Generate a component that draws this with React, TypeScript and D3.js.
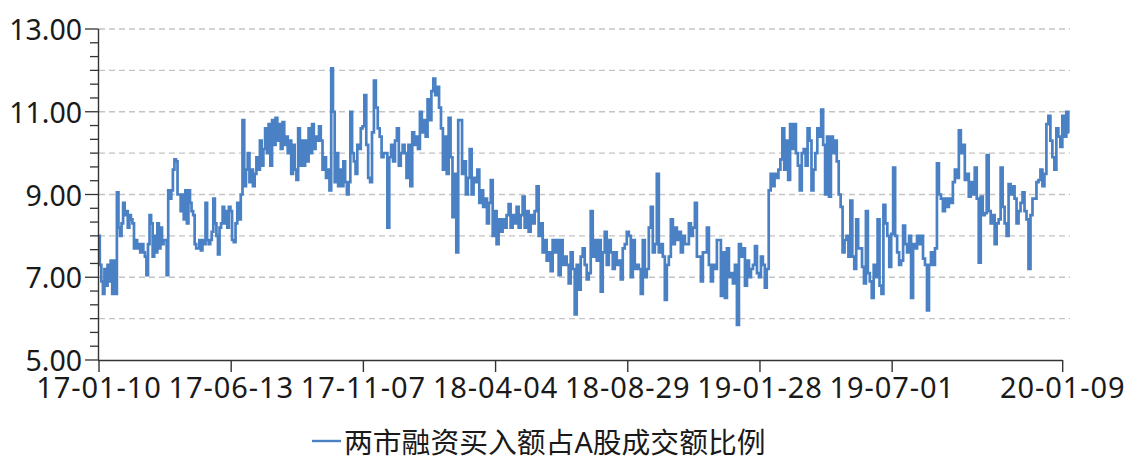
import React from "react";
import * as d3 from "d3";

// ---- Data ----
const seriesName = "两市融资买入额占A股成交额比例";
const tickLabels = ["17-01-10", "17-06-13", "17-11-07", "18-04-04", "18-08-29", "19-01-28", "19-07-01", "20-01-09"];
const tickDayIndex = [0, 100, 200, 300, 400, 500, 600, 729];
const lastDayIndex = 734;
const yTickValues = [5, 7, 9, 11, 13];

// values sampled across each 100-trading-day period
const p17a = [8.0, 7.3, 6.9, 6.6, 7.2, 6.8, 7.3, 6.9, 7.4, 6.6, 7.4, 6.6, 9.05, 8.2, 8.0, 8.3, 8.8, 8.5, 8.6, 8.2, 8.5, 8.4, 8.3, 7.7, 7.9, 7.7, 7.8, 7.6, 7.8, 7.6, 7.5, 7.05, 7.8, 8.5, 8.3, 7.5, 8.0, 7.6, 8.3, 7.7, 8.2, 7.8, 7.9, 7.9, 7.05, 9.1, 8.9, 9.1, 9.6, 9.85, 9.8, 9.0, 9.0, 8.6, 9.0, 8.4, 9.1, 8.3, 9.1, 8.8, 8.6, 8.5, 7.8, 7.7, 7.7, 7.9, 7.65, 7.9, 7.8, 8.8, 7.9, 7.8, 7.9, 8.1, 8.9, 8.3, 8.0, 7.55, 8.2, 8.3, 8.7, 8.3, 8.6, 8.2, 8.7];
const p17b = [8.6, 7.9, 7.85, 8.3, 8.8, 8.4, 9.0, 10.8, 9.2, 9.6, 10.0, 9.3, 9.6, 9.2, 9.5, 9.9, 9.6, 10.3, 9.7, 10.1, 10.6, 10.0, 10.7, 9.7, 10.8, 10.2, 10.85, 10.3, 10.7, 10.1, 10.75, 10.2, 10.4, 10.0, 10.3, 9.5, 10.2, 9.6, 9.35, 10.6, 9.7, 10.3, 9.7, 10.3, 9.8, 10.6, 10.0, 10.7, 10.1, 10.4, 10.3, 10.65, 10.3, 9.6, 9.9, 9.4, 9.6, 9.1, 12.05, 11.0, 9.3, 10.0, 9.2, 9.6, 9.2, 9.8, 9.3, 9.0, 9.3, 11.0, 10.0, 9.8, 9.5, 10.2, 10.1, 10.6];
const p18a = [10.65, 11.4, 10.2, 9.4, 9.3, 10.5, 11.75, 11.1, 10.6, 10.4, 9.9, 10.0, 10.0, 8.2, 9.9, 10.2, 9.8, 10.3, 10.6, 9.7, 10.0, 10.2, 10.0, 9.4, 10.2, 9.2, 10.5, 10.2, 10.4, 10.1, 11.0, 10.5, 10.8, 10.4, 11.3, 10.8, 11.5, 11.8, 11.4, 11.6, 11.1, 10.6, 9.6, 10.4, 9.5, 10.85, 9.9, 8.45, 9.5, 7.6, 10.8, 10.8, 9.5, 9.8, 9.0, 9.4, 10.1, 9.0, 9.4, 9.3, 9.6, 8.8, 9.1, 8.7, 8.9, 8.3, 8.8, 9.35, 8.0];
const p18b = [8.6, 7.8, 8.4, 8.1, 8.4, 8.2, 8.5, 8.77, 8.2, 8.5, 8.3, 8.7, 8.2, 8.5, 8.95, 8.2, 8.6, 8.1, 8.5, 8.3, 8.6, 9.2, 8.0, 8.3, 7.6, 7.9, 7.4, 7.6, 7.15, 7.9, 7.6, 7.9, 7.05, 7.9, 7.3, 7.5, 7.3, 6.85, 7.6, 7.2, 6.1, 7.3, 6.7, 7.5, 7.7, 7.3, 6.95, 7.1, 8.6, 7.5, 7.9, 7.4, 7.9, 6.65, 7.6, 8.1, 7.3, 7.9, 7.6, 7.2, 7.6, 7.3, 7.4, 6.95, 7.7, 7.8];
const p18c = [8.1, 8.0, 7.0, 7.9, 7.2, 7.3, 7.2, 6.6, 7.9, 7.0, 7.2, 8.2, 8.7, 7.6, 7.8, 9.5, 7.6, 7.8, 7.5, 6.45, 7.3, 7.5, 8.4, 7.8, 8.2, 7.9, 8.1, 7.6, 8.0, 7.8, 7.8, 8.3, 8.0, 8.2, 8.8, 7.5, 7.5, 6.9, 7.6, 7.6, 8.2, 7.3, 6.9, 7.3, 7.2, 7.9, 7.9, 6.55, 7.6, 6.5, 7.7, 7.0, 7.1, 6.85, 7.3, 5.85, 7.8, 7.5, 7.7, 6.8, 7.4, 7.0, 7.2, 7.3, 7.75, 7.1];
const p19a = [7.0, 7.5, 7.3, 6.75, 7.2, 9.1, 9.5, 9.2, 9.5, 9.4, 9.6, 9.85, 10.6, 9.6, 10.3, 9.35, 10.7, 10.1, 10.7, 10.0, 9.7, 9.1, 10.0, 10.1, 9.7, 10.6, 10.3, 9.1, 9.6, 10.0, 10.6, 10.4, 11.05, 10.2, 9.0, 10.4, 8.95, 10.4, 10.0, 10.3, 9.8, 9.0, 8.7, 7.6, 7.9, 8.0, 7.5, 8.85, 7.5, 7.2, 8.4, 7.7, 7.7, 7.25, 6.85, 8.6, 7.1, 6.9, 6.5, 7.3, 7.0, 8.4, 6.8, 6.6, 8.75, 8.3, 8.0, 7.25];
const p19b = [8.05, 9.65, 8.0, 7.6, 7.3, 7.4, 8.25, 7.8, 7.6, 8.0, 6.5, 7.8, 7.7, 8.0, 7.8, 8.0, 7.45, 7.3, 6.2, 7.3, 7.6, 7.3, 7.7, 9.75, 9.0, 8.9, 8.6, 8.9, 8.7, 8.9, 8.8, 9.3, 9.6, 9.4, 10.55, 10.0, 10.2, 9.35, 9.5, 8.95, 9.3, 9.0, 9.65, 8.9, 7.35, 8.95, 8.5, 8.55, 9.95, 8.6, 8.3, 8.5, 7.8, 8.3, 8.4, 9.65, 8.7, 8.3, 8.0, 9.25, 9.0, 9.2, 8.9, 8.3, 8.6, 8.8, 9.05, 8.6, 8.4, 7.2, 8.5, 8.9, 8.9, 9.3, 9.35, 9.6, 9.2, 9.5, 10.7, 10.9, 10.3, 9.9, 9.6, 10.6, 10.4, 10.15, 10.9, 10.4, 11.0, 10.5];

const periods = [p17a, p17b, p18a, p18b, p18c, p19a];
const lastPeriod = p19b;

// ---- Layout ----
const W = 1132;
const H = 457;
const xLeft = 99;
const xRight = 1069.3;
const yTop = 29;
const yBottom = 360;
const FONT = "'Noto Sans', 'Noto Sans CJK SC', sans-serif";
const LINE_COLOR = "#4a80c4";
const TEXT_COLOR = "#1a1a1a";
const AXIS_COLOR = "#333333";

export default function App() {
  const x = d3.scaleLinear().domain([0, lastDayIndex]).range([xLeft, xRight]);
  const y = d3.scaleLinear().domain([5, 13]).range([yBottom, yTop]);

  const points: [number, number][] = [];
  periods.forEach((vals, k) => {
    vals.forEach((v, j) => {
      points.push([k * 100 + (j * 100) / vals.length, v]);
    });
  });
  const startLast = periods.length * 100;
  lastPeriod.forEach((v, j) => {
    points.push([startLast + (j * (lastDayIndex - startLast)) / (lastPeriod.length - 1), v]);
  });

  const line = d3
    .line<[number, number]>()
    .curve(d3.curveStep)
    .x((d) => x(d[0]))
    .y((d) => y(d[1]));

  const gridValues = d3.range(6, 13.001, 1);
  const minorTicks = d3.range(0, 25).map((i) => 5 + i / 3);
  const axisEnd = x(tickDayIndex[tickDayIndex.length - 1]);

  return (
    <svg
      width={W}
      height={H}
      style={{ position: "absolute", left: 0, top: 0, background: "#fff" }}
      fontFamily={FONT}
    >
      {/* grid */}
      {gridValues.map((g) => (
        <line
          key={"g" + g}
          x1={xLeft}
          x2={1070}
          y1={y(g)}
          y2={y(g)}
          stroke="#c4c4c4"
          strokeWidth={1.3}
          strokeDasharray="6 4"
        />
      ))}
      {/* series line */}
      <path d={line(points) || ""} fill="none" stroke={LINE_COLOR} strokeWidth={2.7} strokeLinejoin="miter" />
      {/* y axis */}
      <line x1={98.5} x2={98.5} y1={yTop} y2={yBottom} stroke={AXIS_COLOR} strokeWidth={1.4} />
      {minorTicks.map((t, i) => (
        <line
          key={"m" + i}
          x1={i % 6 === 0 ? 85 : 90}
          x2={98.5}
          y1={y(t)}
          y2={y(t)}
          stroke={AXIS_COLOR}
          strokeWidth={1.3}
        />
      ))}
      {yTickValues.map((t) => (
        <text
          key={"yl" + t}
          x={82}
          y={y(t)}
          textAnchor="end"
          dominantBaseline="central"
          fontSize={28.5}
          fill={TEXT_COLOR}
        >
          {t.toFixed(2)}
        </text>
      ))}
      {/* x axis */}
      <line x1={98} x2={axisEnd} y1={yBottom + 0.5} y2={yBottom + 0.5} stroke={AXIS_COLOR} strokeWidth={1.4} />
      {tickDayIndex.map((d, i) => (
        <g key={"xt" + i}>
          <line x1={x(d)} x2={x(d)} y1={yBottom} y2={yBottom + 12} stroke={AXIS_COLOR} strokeWidth={1.4} />
          <text
            x={x(d)}
            y={398}
            textAnchor="middle"
            fontSize={29}
            letterSpacing={0.9}
            fill={TEXT_COLOR}
          >
            {tickLabels[i]}
          </text>
        </g>
      ))}
      {/* legend */}
      <line x1={312} x2={341} y1={441} y2={441} stroke={LINE_COLOR} strokeWidth={2.4} />
      <text x={344} y={441} dominantBaseline="central" fontSize={28.8} fill={TEXT_COLOR}>
        {seriesName}
      </text>
    </svg>
  );
}
